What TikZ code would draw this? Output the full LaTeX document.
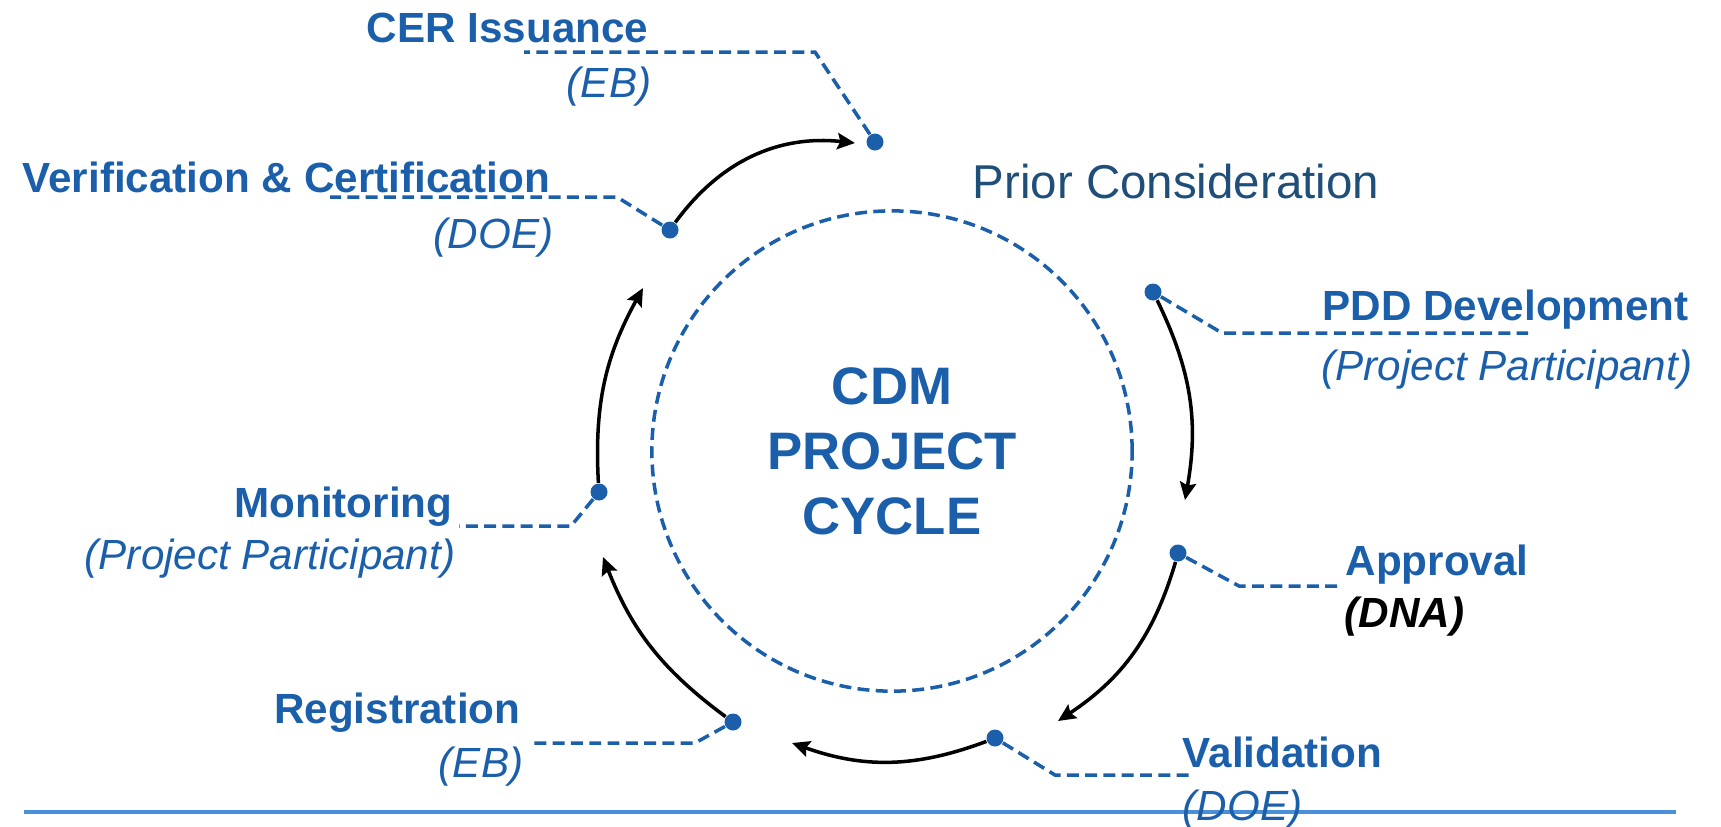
\documentclass[tikz,border=0pt]{standalone}
\usepackage{fontspec}
\setmainfont{Liberation Sans}
\usetikzlibrary{arrows.meta}
\definecolor{cdmblue}{RGB}{27,95,170}
\definecolor{priorblue}{RGB}{31,78,121}
\definecolor{ruleblue}{RGB}{74,144,217}

\begin{document}
\begin{tikzpicture}[x=0.01cm,y=-0.01cm,
    stagename/.style={inner sep=0pt,text=cdmblue,font=\fontsize{12}{14}\selectfont\bfseries},
    stagerole/.style={inner sep=0pt,text=cdmblue,font=\fontsize{12}{14}\selectfont\itshape},
    stagedot/.style={circle,fill=cdmblue,inner sep=0pt,minimum size=0.17cm},
    leader/.style={draw=cdmblue,line width=1pt,dash pattern=on 3.4pt off 1.8pt},
    flow/.style={-{Stealth[length=5pt,width=4.6pt,inset=0.8pt]},line width=1pt,black}]
  \useasboundingbox (0,0) rectangle (1721,826);

  % bottom rule
  \coordinate (ruleL) at (24,812);
  \coordinate (ruleR) at (1676,812);
  \draw[ruleblue,line width=1pt] (ruleL) -- (ruleR);

  % centre of the cycle
  \node[circle,leader,minimum size=4.8cm,inner sep=0pt,align=center,text=cdmblue,
        font=\fontsize{15}{18.5}\selectfont\bfseries] (cycle) at (892,451) {CDM\\PROJECT\\CYCLE};
  \node[anchor=base west,inner sep=0pt,text=priorblue,font=\fontsize{13.5}{16}\selectfont]
    (prior) at (972,198) {Prior Consideration};

  % stages
  \node[stagename,anchor=base east] (cerName) at (649,42) {CER Issuance};
  \node[stagerole,anchor=base east] (cerRole) at (652,97) {(EB)};
  \node[stagename,anchor=base east] (vcName) at (551,192) {Verification \& Certification};
  \node[stagerole,anchor=base east] (vcRole) at (554,248) {(DOE)};
  \node[stagename,anchor=base west] (pddName) at (1322,320) {PDD Development};
  \node[stagerole,anchor=base west] (pddRole) at (1321,380) {(Project Participant)};
  \node[stagename,anchor=base west] (apprName) at (1345,575) {Approval};
  \node[stagename,anchor=base west,text=black,font=\fontsize{12}{14}\selectfont\bfseries\itshape]
    (apprRole) at (1344,627) {(DNA)};
  \node[stagename,anchor=base west] (valName) at (1182,767) {Validation};
  \node[stagerole,anchor=base west] (valRole) at (1182,820) {(DOE)};
  \node[stagename,anchor=base east] (monName) at (453,517) {Monitoring};
  \node[stagerole,anchor=base east] (monRole) at (456,569) {(Project Participant)};
  \node[stagename,anchor=base east] (regName) at (521,723) {Registration};
  \node[stagerole,anchor=base east] (regRole) at (524,777) {(EB)};

  % leader lines
  \coordinate (cerBend) at (815,52);   \coordinate (cerEnd) at (524,52);
  \coordinate (vcBend) at (617,197);   \coordinate (vcEnd) at (330,197);
  \coordinate (pddBend) at (1222,333); \coordinate (pddEnd) at (1528,333);
  \coordinate (apprBend) at (1239,586);\coordinate (apprEnd) at (1338,586);
  \coordinate (valBend) at (1055,775); \coordinate (valEnd) at (1192,775);
  \coordinate (monBend) at (571,526);  \coordinate (monEnd) at (459,526);
  \coordinate (regBend) at (695,743);  \coordinate (regEnd) at (530,743);

  \node[stagedot] (cerDot) at (875,142) {};
  \node[stagedot] (vcDot) at (670,230) {};
  \node[stagedot] (pddDot) at (1153,292) {};
  \node[stagedot] (apprDot) at (1178,553) {};
  \node[stagedot] (valDot) at (995,738) {};
  \node[stagedot] (regDot) at (733,722) {};
  \node[stagedot] (monDot) at (599,492) {};

  \draw[leader] (cerDot) -- (cerBend) -- (cerEnd);
  \draw[leader] (vcDot) -- (vcBend) -- (vcEnd);
  \draw[leader] (pddDot) -- (pddBend) -- (pddEnd);
  \draw[leader] (apprDot) -- (apprBend) -- (apprEnd);
  \draw[leader] (valDot) -- (valBend) -- (valEnd);
  \draw[leader] (monDot) -- (monBend) -- (monEnd);
  \draw[leader] (regDot) -- (regBend) -- (regEnd);

  % cycle arrows
  \coordinate (cerIn) at (855,143);
  \coordinate (apprIn) at (1185,500);
  \coordinate (valIn) at (1058,721);
  \coordinate (regIn) at (792,743);
  \coordinate (monIn) at (603,557);
  \coordinate (vcIn) at (643,288);
  \path[flow]
    (vcDot) edge[bend left=30] (cerIn)
    (pddDot) edge[bend left=18] (apprIn)
    (apprDot) edge[bend left=20] (valIn)
    (valDot) edge[bend left=20] (regIn)
    (regDot) edge[bend left=16] (monIn)
    (monDot) edge[bend left=16] (vcIn);
\end{tikzpicture}
\end{document}
